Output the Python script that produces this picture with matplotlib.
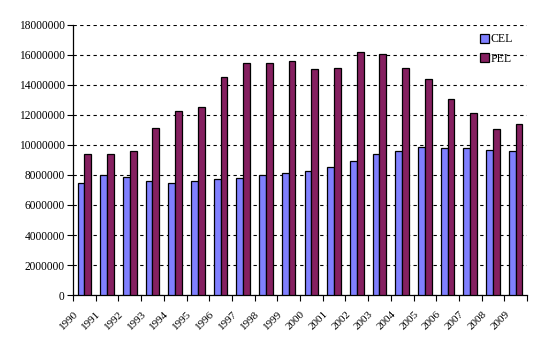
import matplotlib
matplotlib.use("Agg")
import matplotlib.pyplot as plt
import matplotlib.transforms as mtransforms
import numpy as np

years = [str(y) for y in range(1990, 2010)]
cel = [7.44, 7.98, 7.84, 7.58, 7.44, 7.58, 7.71, 7.78, 7.98, 8.11,
       8.24, 8.51, 8.91, 9.38, 9.58, 9.87, 9.78, 9.78, 9.64, 9.58]
pel = [9.38, 9.38, 9.60, 11.13, 12.27, 12.50, 14.50, 15.47, 15.47, 15.60,
       15.07, 15.13, 16.20, 16.07, 15.13, 14.40, 13.07, 12.10, 11.07, 11.40]
cel = np.array(cel) * 1e6
pel = np.array(pel) * 1e6
y_ticks = np.arange(0, 18000001, 2000000)

plt.rcParams["font.family"] = ["Liberation Serif", "DejaVu Serif"]

fig = plt.figure(figsize=(5.49, 3.5), dpi=100)
ax = fig.add_axes([0.133, 0.157, 0.827, 0.772])

x = np.arange(len(years))
w = 0.3
ax.bar(x - w / 2, cel, w, color="#8080FF", edgecolor="black", linewidth=0.9,
       label="CEL", zorder=3)
ax.bar(x + w / 2, pel, w, color="#852060", edgecolor="black", linewidth=0.9,
       label="PEL", zorder=3)

ax.set_xlim(-0.5, len(years) - 0.5)
ax.set_ylim(0, 18000000)
ax.set_yticks(y_ticks)
ax.set_yticklabels([str(int(v)) for v in y_ticks], fontsize=8.3)
ax.yaxis.grid(True, linestyle=(0, (3, 3)), color="black", linewidth=0.8, zorder=0)

ax.set_xticks(x)
ax.set_xticklabels(years, fontsize=8, rotation=45, ha="right",
                   rotation_mode="anchor")
ax.tick_params(axis="x", which="major", length=0, pad=8)
# shift labels so their ends sit left of the category centre, like Excel
offset = mtransforms.ScaledTranslation(-11 / 100, -3 / 100, fig.dpi_scale_trans)
for lbl in ax.get_xticklabels():
    lbl.set_transform(lbl.get_transform() + offset)
ax.set_xticks(np.arange(-0.5, len(years)), minor=True)
ax.tick_params(axis="x", which="minor", length=4, direction="out", width=0.8)
ax.tick_params(axis="y", length=4, direction="out", width=0.8, pad=2)

for s in ["top", "right"]:
    ax.spines[s].set_visible(False)
for s in ["left", "bottom"]:
    ax.spines[s].set_linewidth(0.9)

ax.legend(loc="upper left", bbox_to_anchor=(0.866, 0.918),
          bbox_transform=fig.transFigure, frameon=False, fontsize=8.5,
          handlelength=0.75, handleheight=0.75, handletextpad=0.15,
          labelspacing=0.6, borderaxespad=0)

fig.savefig("out.png", dpi=100)
